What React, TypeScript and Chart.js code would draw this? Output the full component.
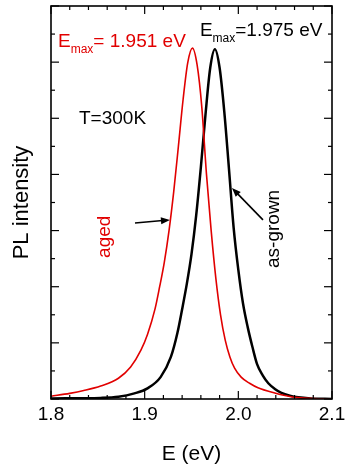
import React, { useEffect, useRef } from "react";
import { Chart, registerables } from "chart.js";
Chart.register(...registerables);

// Aged sample (red)
const agedE = [1.800, 1.820, 1.835, 1.853, 1.872, 1.885, 1.896, 1.903, 1.911, 1.916, 1.921, 1.926, 1.931, 1.936, 1.941, 1.946, 1.951, 1.956, 1.961, 1.966, 1.971, 1.976, 1.981, 1.986, 1.991, 1.996, 2.003, 2.012, 2.021, 2.038, 2.056, 2.080, 2.100];
const agedI = [0.05, 0.10, 0.15, 0.23, 0.37, 0.57, 0.87, 1.15, 1.60, 2.00, 2.44, 3.00, 3.69, 4.50, 5.33, 5.99, 6.25, 5.95, 5.20, 4.00, 3.00, 2.15, 1.50, 1.05, 0.75, 0.55, 0.39, 0.28, 0.20, 0.11, 0.04, 0.01, 0.00];

// As-grown sample (black)
const grownE = [1.800, 1.853, 1.872, 1.889, 1.903, 1.917, 1.928, 1.935, 1.940, 1.945, 1.950, 1.955, 1.960, 1.965, 1.970, 1.975, 1.980, 1.985, 1.990, 1.995, 2.000, 2.005, 2.010, 2.015, 2.020, 2.026, 2.032, 2.039, 2.046, 2.055, 2.064, 2.077, 2.100];
const grownI = [0.01, 0.02, 0.04, 0.10, 0.19, 0.39, 0.75, 1.18, 1.60, 2.05, 2.58, 3.27, 4.13, 5.08, 5.90, 6.23, 5.90, 5.12, 4.10, 3.05, 2.30, 1.70, 1.28, 0.93, 0.62, 0.42, 0.28, 0.18, 0.11, 0.06, 0.03, 0.01, 0.00];

const xMin = 1.8;
const xMax = 2.1;
const yMin = 0;
const yMax = 7;

const RED = "rgb(225,0,0)";
const FONT = "'Liberation Sans', Arial, sans-serif";

const toPoints = (xs: number[], ys: number[]) => xs.map((x, i) => ({ x, y: ys[i] }));

const framePlugin = {
  id: "frameAndNotes",
  afterDraw(chart: any) {
    const { ctx, chartArea, scales } = chart;
    const { left, right, top, bottom } = chartArea;
    const x = scales.x;
    const y = scales.y;
    ctx.save();
    ctx.strokeStyle = "#000";
    ctx.lineWidth = 1.6;
    ctx.strokeRect(left, top, right - left, bottom - top);
    const line = (x1: number, y1: number, x2: number, y2: number) => {
      ctx.beginPath();
      ctx.moveTo(x1, y1);
      ctx.lineTo(x2, y2);
      ctx.stroke();
    };
    ctx.lineWidth = 1.2;
    for (let i = 0; i <= 15; i++) {
      const px = x.getPixelForValue(xMin + i * 0.02);
      const len = i % 5 === 0 ? 8 : 4;
      line(px, bottom, px, bottom - len);
      line(px, top, px, top + len);
    }
    for (let j = 0; j <= 14; j++) {
      const py = y.getPixelForValue(yMin + j * 0.5);
      const len = j % 2 === 0 ? 8 : 4;
      line(left, py, left + len, py);
      line(right, py, right - len, py);
    }

    const X = (v: number) => x.getPixelForValue(v);
    const Y = (v: number) => y.getPixelForValue(v);

    // Emax labels
    const emax = (ex: number, ey: number, rest: string, color: string) => {
      ctx.fillStyle = color;
      ctx.textBaseline = "alphabetic";
      ctx.textAlign = "left";
      let px = X(ex);
      const py = Y(ey);
      ctx.font = `19px ${FONT}`;
      ctx.fillText("E", px, py);
      px += ctx.measureText("E").width;
      ctx.font = `12px ${FONT}`;
      ctx.fillText("max", px, py + 6);
      px += ctx.measureText("max").width;
      ctx.font = `19px ${FONT}`;
      ctx.fillText(rest, px, py);
    };
    emax(1.8075, 6.27, "= 1.951 eV", RED);
    emax(1.959, 6.47, "=1.975 eV", "#000");

    // T=300K
    ctx.font = `19px ${FONT}`;
    ctx.fillStyle = "#000";
    ctx.textAlign = "left";
    ctx.textBaseline = "middle";
    ctx.fillText("T=300K", X(1.8299), Y(4.99));

    // rotated labels
    const vtext = (t: string, ex: number, ey: number, color: string) => {
      ctx.save();
      ctx.translate(X(ex), Y(ey));
      ctx.rotate(-Math.PI / 2);
      ctx.font = `19px ${FONT}`;
      ctx.fillStyle = color;
      ctx.textAlign = "center";
      ctx.textBaseline = "middle";
      ctx.fillText(t, 0, 0);
      ctx.restore();
    };
    vtext("aged", 1.8577, 2.89, RED);
    vtext("as-grown", 2.038, 3.03, "#000");

    // arrows
    const arrow = (x1: number, y1: number, x2: number, y2: number) => {
      const ax = X(x1), ay = Y(y1), bx = X(x2), by = Y(y2);
      const ang = Math.atan2(by - ay, bx - ax);
      const hl = 9, hw = 3.5;
      ctx.strokeStyle = "#000";
      ctx.fillStyle = "#000";
      ctx.lineWidth = 1.6;
      ctx.beginPath();
      ctx.moveTo(ax, ay);
      ctx.lineTo(bx - Math.cos(ang) * hl * 0.8, by - Math.sin(ang) * hl * 0.8);
      ctx.stroke();
      ctx.beginPath();
      ctx.moveTo(bx, by);
      ctx.lineTo(bx - Math.cos(ang) * hl - Math.sin(ang) * hw, by - Math.sin(ang) * hl + Math.cos(ang) * hw);
      ctx.lineTo(bx - Math.cos(ang) * hl + Math.sin(ang) * hw, by - Math.sin(ang) * hl - Math.cos(ang) * hw);
      ctx.closePath();
      ctx.fill();
    };
    arrow(1.8897, 3.135, 1.927, 3.19);
    arrow(2.0263, 3.19, 1.9932, 3.76);

    ctx.restore();
  },
};

export default function App() {
  const ref = useRef<HTMLCanvasElement | null>(null);
  useEffect(() => {
    document.body.style.margin = "0";
    const canvas = ref.current;
    if (!canvas) return;
    const chart = new Chart(canvas, {
      type: "line",
      data: {
        datasets: [
          {
            label: "aged",
            data: toPoints(agedE, agedI),
            borderColor: RED,
            borderWidth: 1.6,
            pointRadius: 0,
            cubicInterpolationMode: "monotone",
            fill: false,
          },
          {
            label: "as-grown",
            data: toPoints(grownE, grownI),
            borderColor: "#000",
            borderWidth: 2.5,
            pointRadius: 0,
            cubicInterpolationMode: "monotone",
            fill: false,
          },
        ],
      },
      options: {
        responsive: false,
        animation: false,
        devicePixelRatio: 1,
        layout: { padding: { top: 6, right: 13, left: 0, bottom: 0 } },
        plugins: { legend: { display: false }, tooltip: { enabled: false } },
        scales: {
          x: {
            type: "linear",
            min: xMin,
            max: xMax,
            grid: { display: false, drawTicks: false },
            border: { display: false },
            ticks: {
              stepSize: 0.1,
              color: "#000",
              padding: 4,
              maxRotation: 0,
              font: { family: FONT, size: 19 },
              callback: (v: any) => Number(v).toFixed(1),
            },
            title: {
              display: true,
              text: "E (eV)",
              color: "#000",
              font: { family: FONT, size: 21 },
              padding: { top: 0, bottom: 0 },
            },
            afterFit: (s: any) => {
              s.height = 68;
              s.paddingLeft = 0;
              s.paddingRight = 0;
            },
          },
          y: {
            type: "linear",
            min: yMin,
            max: yMax,
            grid: { display: false, drawTicks: false },
            border: { display: false },
            ticks: { display: false },
            title: {
              display: true,
              text: "PL intensity",
              color: "#000",
              font: { family: FONT, size: 22 },
              padding: { top: 9, bottom: 0 },
            },
            afterFit: (s: any) => {
              s.width = 51;
              s.paddingTop = 0;
              s.paddingBottom = 0;
            },
          },
        },
      },
      plugins: [framePlugin],
    } as any);
    return () => chart.destroy();
  }, []);
  return (
    <div style={{ position: "absolute", left: 0, top: 0, width: 345, height: 467 }}>
      <canvas ref={ref} width={345} height={467} style={{ width: 345, height: 467, display: "block" }} />
    </div>
  );
}
